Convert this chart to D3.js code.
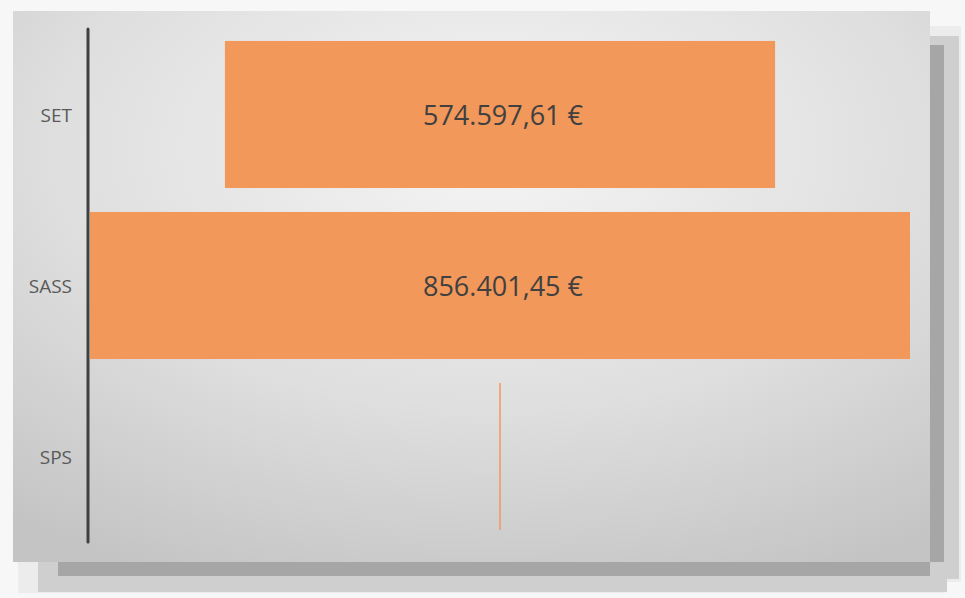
<!DOCTYPE html>
<html>
<head>
<meta charset="utf-8">
<script src="https://cdn.jsdelivr.net/npm/d3@7"></script>
<style>
  body { margin: 0; background: #f7f7f7; }
  svg { display: block; }
</style>
</head>
<body>
<svg id="chart" width="965" height="598"></svg>
<script>
var categories = ["SET", "SASS", "SPS"];
var values = [574597.61, 856401.45, 0];
var valueLabels = ["574.597,61 €", "856.401,45 €", ""];

var svg = d3.select("#chart");
const panel = {x: 13, y: 11, w: 917, h: 551};
const margins = {top: 18, left: 77, right: 20, bottom: 20};
const center = 500;

// soft pixelated drop shadow, right and bottom
var shadow = svg.append("g");
shadow.append("rect").attr("x", panel.x + panel.w).attr("y", panel.y + 15)
    .attr("width", 31).attr("height", panel.h + 5).attr("fill", "#ececec");
shadow.append("rect").attr("x", panel.x + 5).attr("y", panel.y + panel.h)
    .attr("width", panel.w + 10).attr("height", 31).attr("fill", "#ececec");
shadow.append("rect").attr("x", panel.x + panel.w).attr("y", panel.y + 25)
    .attr("width", 29).attr("height", panel.h - 8).attr("fill", "#cfcfcf");
shadow.append("rect").attr("x", panel.x + 25).attr("y", panel.y + panel.h)
    .attr("width", panel.w - 8).attr("height", 30).attr("fill", "#cfcfcf");
shadow.append("rect").attr("x", panel.x + panel.w).attr("y", panel.y + 34)
    .attr("width", 14).attr("height", panel.h - 34).attr("fill", "#a6a6a6");
shadow.append("rect").attr("x", panel.x + 45).attr("y", panel.y + panel.h)
    .attr("width", panel.w - 45).attr("height", 14).attr("fill", "#a6a6a6");

var defs = svg.append("defs");
var grad = defs.append("radialGradient").attr("id", "bg")
    .attr("cx", "52%").attr("cy", "25%").attr("r", "85%");
grad.append("stop").attr("offset", "0%").attr("stop-color", "#f5f5f5");
grad.append("stop").attr("offset", "55%").attr("stop-color", "#dfdfdf");
grad.append("stop").attr("offset", "100%").attr("stop-color", "#c4c4c4");

svg.append("rect")
    .attr("x", panel.x).attr("y", panel.y)
    .attr("width", panel.w).attr("height", panel.h)
    .attr("fill", "url(#bg)");

var plotTop = panel.y + margins.top;
var plotBottom = panel.y + panel.h - margins.bottom;
var axisX = panel.x + margins.left - 2;

var yScale = d3.scaleBand()
    .domain(categories)
    .range([plotTop, plotBottom])
    .paddingInner(0.14)
    .paddingOuter(0.07);

var halfWidth = d3.scaleLinear()
    .domain([0, d3.max(values)])
    .range([0, center - (axisX + 2)]);

var bars = svg.append("g").selectAll("g.bar")
    .data(categories).enter()
    .append("g").classed("bar", true);

bars.append("rect")
    .attr("x", (d, i) => center - Math.max(0.75, halfWidth(values[i])))
    .attr("y", d => yScale(d))
    .attr("width", (d, i) => Math.max(1.5, 2 * halfWidth(values[i])))
    .attr("height", yScale.bandwidth())
    .attr("fill", "#f1985a");

bars.append("text")
    .attr("x", center + 3)
    .attr("y", d => yScale(d) + yScale.bandwidth() / 2)
    .attr("text-anchor", "middle")
    .attr("dominant-baseline", "central")
    .attr("font-family", "Open Sans")
    .attr("font-size", 27)
    .attr("fill", "#404040")
    .text((d, i) => valueLabels[i]);

// category axis
svg.append("line")
    .attr("x1", axisX).attr("x2", axisX)
    .attr("y1", plotTop).attr("y2", plotBottom)
    .attr("stroke", "#404040").attr("stroke-width", 3)
    .attr("stroke-linecap", "round");

svg.append("g").selectAll("text")
    .data(categories).enter()
    .append("text")
    .attr("x", axisX - 16)
    .attr("y", d => yScale(d) + yScale.bandwidth() / 2)
    .attr("text-anchor", "end")
    .attr("dominant-baseline", "central")
    .attr("font-family", "Open Sans")
    .attr("font-size", 19)
    .attr("fill", "#595959")
    .text(d => d);
</script>
</body>
</html>
